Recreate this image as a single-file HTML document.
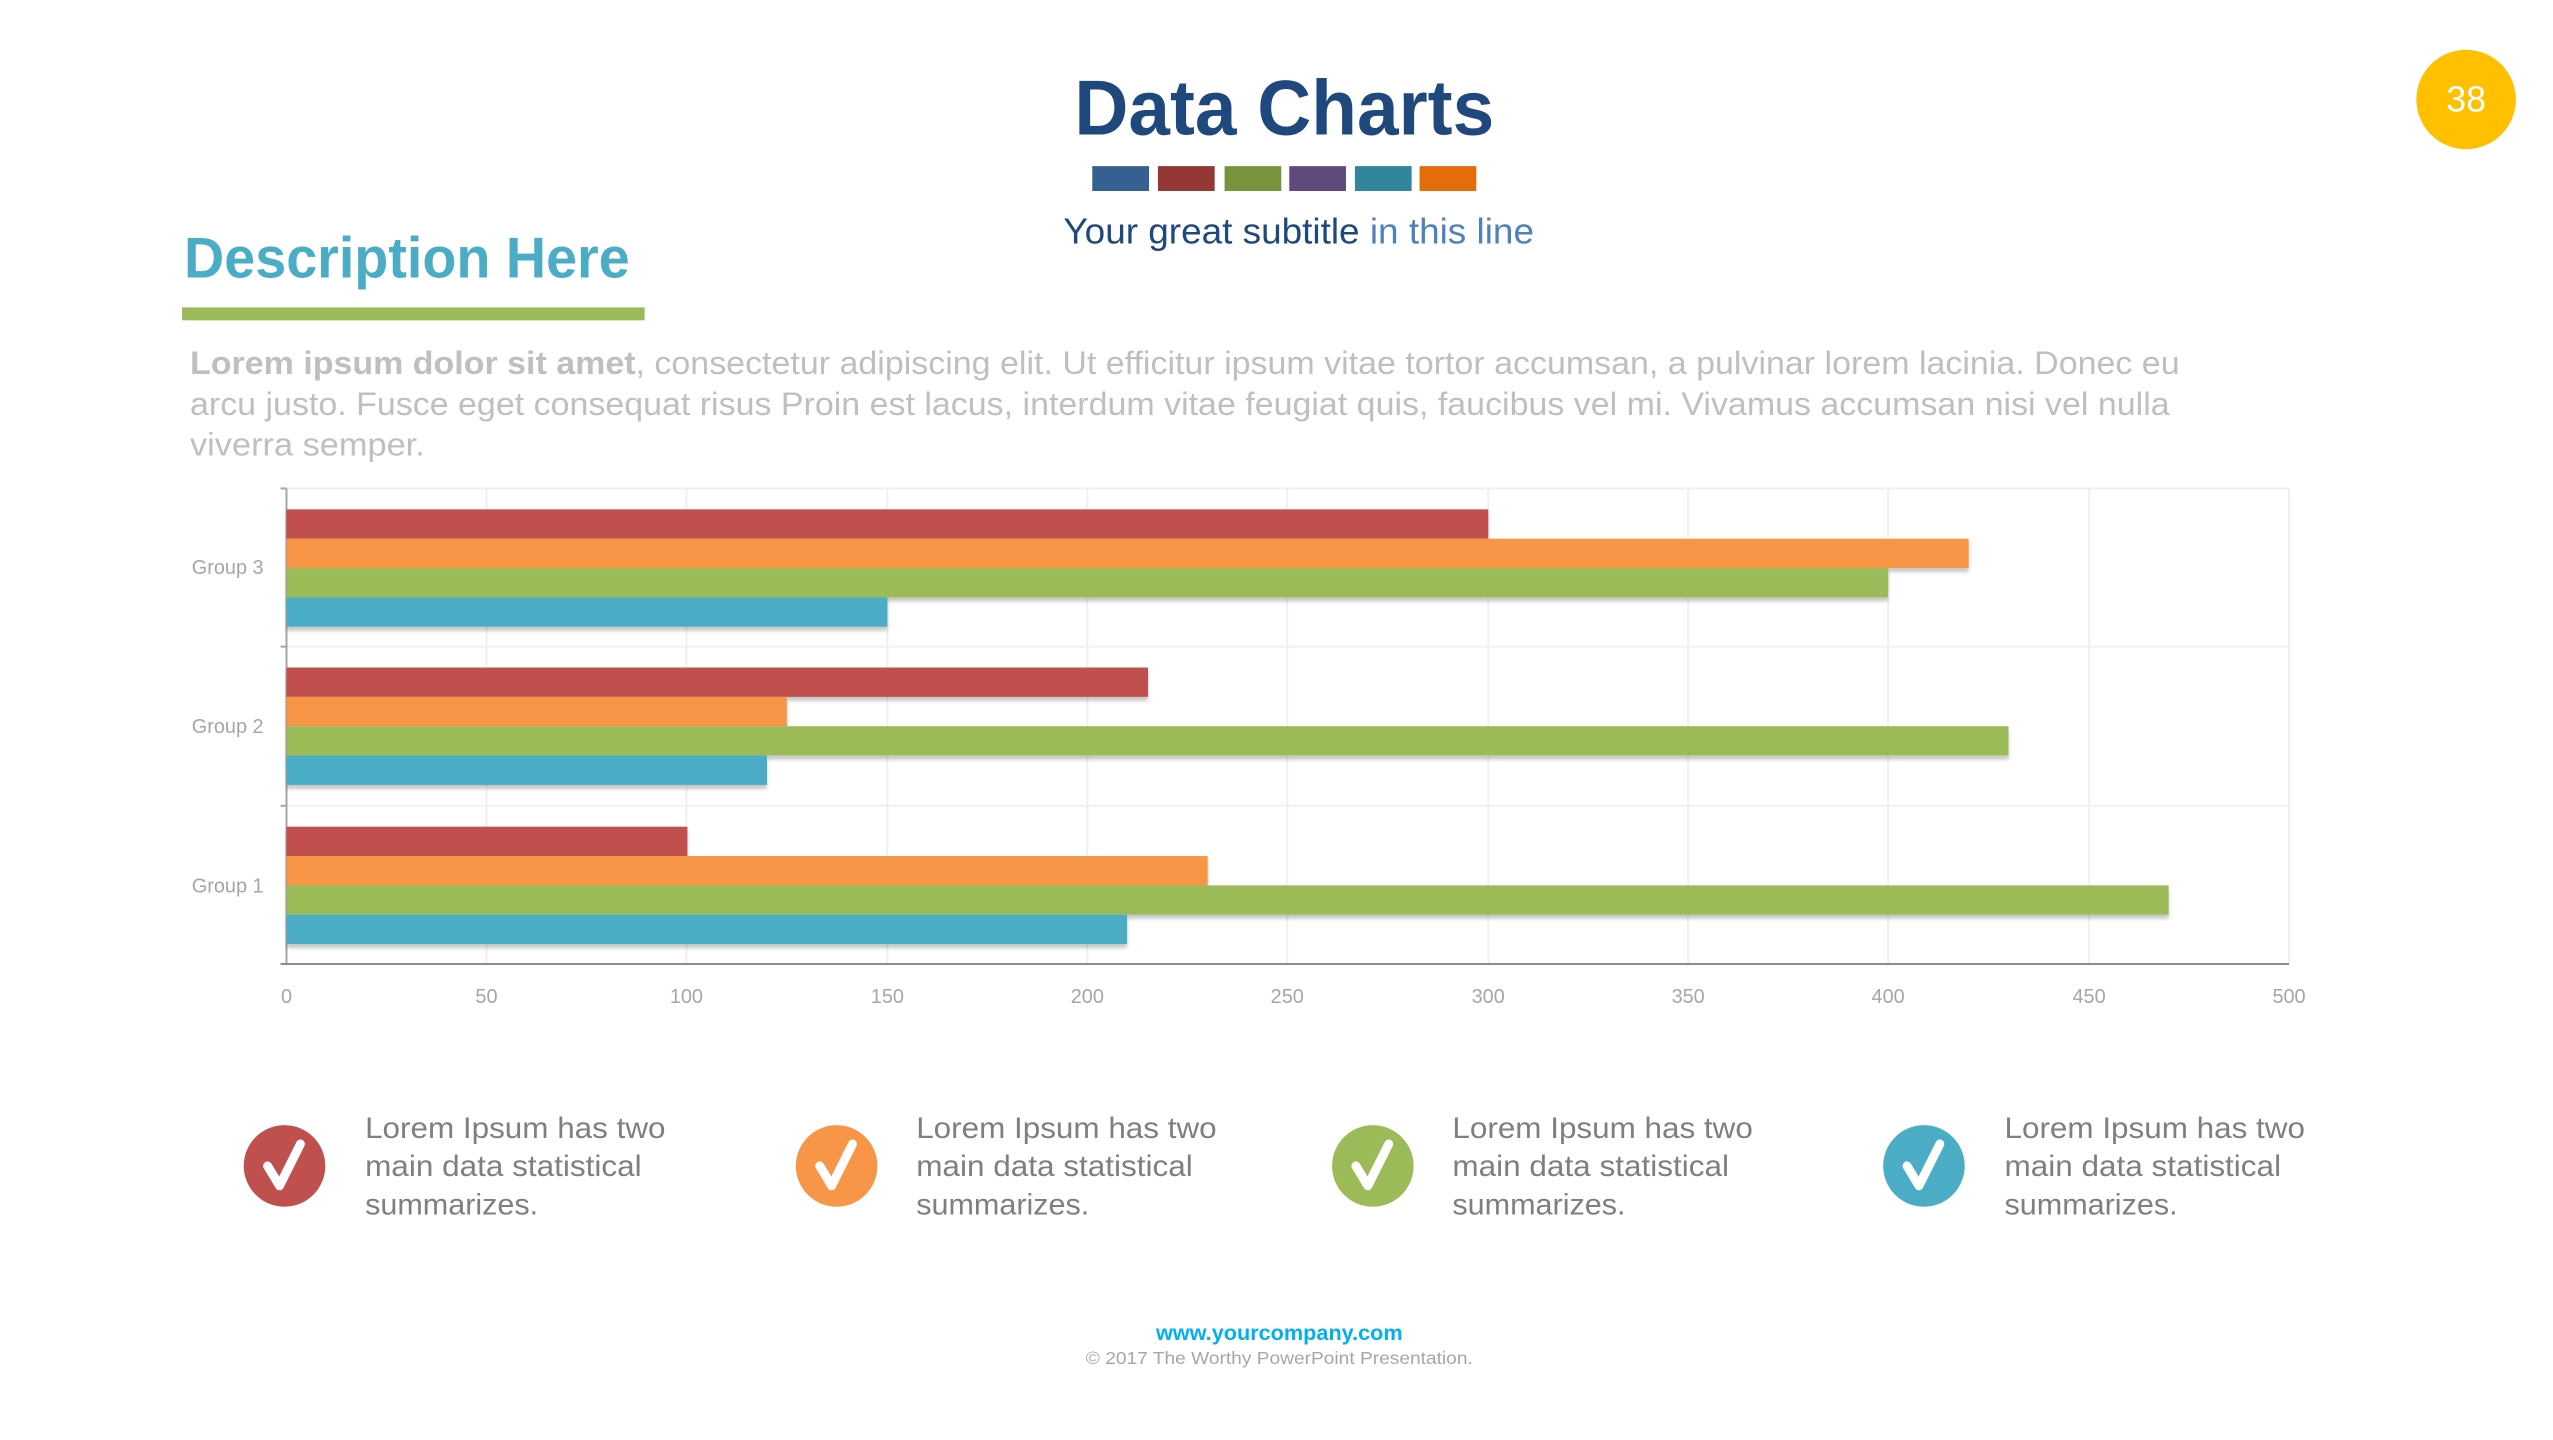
<!DOCTYPE html>
<html><head><meta charset="utf-8"><style>
html,body{margin:0;padding:0;background:#fff;}
svg{display:block;}
text{font-family:"Liberation Sans",sans-serif;}
</style></head><body>
<svg width="2553" height="1440" viewBox="0 0 2553 1440" xmlns="http://www.w3.org/2000/svg">
<defs>
<filter id="sh" x="-5%" y="-20%" width="110%" height="160%">
<feDropShadow dx="0" dy="4" stdDeviation="2" flood-color="#000" flood-opacity="0.22"/>
</filter>
</defs>
<g transform="scale(0.9948)">
<text x="1080" y="135" font-size="78" font-weight="bold" fill="#1F497D" textLength="422" lengthAdjust="spacingAndGlyphs">Data Charts</text>
<rect x="1098" y="167" width="57" height="25" fill="#376092"/>
<rect x="1164" y="167" width="57" height="25" fill="#953735"/>
<rect x="1231" y="167" width="57" height="25" fill="#77933C"/>
<rect x="1296" y="167" width="57" height="25" fill="#604A7B"/>
<rect x="1362" y="167" width="57" height="25" fill="#31859C"/>
<rect x="1427" y="167" width="57" height="25" fill="#E46C0A"/>
<text x="1069" y="245" font-size="36" fill="#1F497D" textLength="473" lengthAdjust="spacingAndGlyphs">Your great subtitle <tspan fill="#4F81BD">in this line</tspan></text>
<circle cx="2479" cy="100" r="50" fill="#FFC000"/>
<text x="2479" y="112" font-size="36" fill="#fff" text-anchor="middle">38</text>
<text x="185" y="279" font-size="58" font-weight="bold" fill="#4BACC6" textLength="448" lengthAdjust="spacingAndGlyphs">Description Here</text>
<rect x="183" y="309" width="465" height="13" fill="#9BBB59"/>
<g font-size="33" fill="#BFBFBF">
<text x="191" y="376" textLength="2000" lengthAdjust="spacingAndGlyphs"><tspan font-weight="bold">Lorem ipsum dolor sit amet</tspan>, consectetur adipiscing elit. Ut efficitur ipsum vitae tortor accumsan, a pulvinar lorem lacinia. Donec eu</text>
<text x="191" y="417" textLength="1990" lengthAdjust="spacingAndGlyphs">arcu justo. Fusce eget consequat risus Proin est lacus, interdum vitae feugiat quis, faucibus vel mi.  Vivamus accumsan nisi vel nulla</text>
<text x="191" y="458" textLength="236" lengthAdjust="spacingAndGlyphs">viverra semper.</text>
</g>
<g stroke="#F0F0F0" stroke-width="2">
<line x1="489" y1="491" x2="489" y2="969"/>
<line x1="690" y1="491" x2="690" y2="969"/>
<line x1="892" y1="491" x2="892" y2="969"/>
<line x1="1093" y1="491" x2="1093" y2="969"/>
<line x1="1294" y1="491" x2="1294" y2="969"/>
<line x1="1496" y1="491" x2="1496" y2="969"/>
<line x1="1697" y1="491" x2="1697" y2="969"/>
<line x1="1898" y1="491" x2="1898" y2="969"/>
<line x1="2100" y1="491" x2="2100" y2="969"/>
<line x1="2301" y1="491" x2="2301" y2="969"/>
<line x1="288" y1="491" x2="2301" y2="491"/>
<line x1="288" y1="650" x2="2301" y2="650"/>
<line x1="288" y1="810" x2="2301" y2="810"/>
</g>
<g stroke="#A6A6A6" stroke-width="2">
<line x1="288" y1="491" x2="288" y2="969"/>
<line x1="282" y1="491" x2="288" y2="491"/>
<line x1="282" y1="650" x2="288" y2="650"/>
<line x1="282" y1="810" x2="288" y2="810"/>
</g>
<line x1="282" y1="969" x2="2301" y2="969" stroke="#8C8C8C" stroke-width="2"/>
<g filter="url(#sh)">
<rect x="288" y="512" width="1208" height="29.5" fill="#C0504D"/>
<rect x="288" y="541.5" width="1691" height="29.5" fill="#F79646"/>
<rect x="288" y="571" width="1610" height="29.5" fill="#9BBB59"/>
<rect x="288" y="600.5" width="604" height="29.5" fill="#4BACC6"/>
<rect x="288" y="671" width="866" height="29.5" fill="#C0504D"/>
<rect x="288" y="700.5" width="503" height="29.5" fill="#F79646"/>
<rect x="288" y="730" width="1731" height="29.5" fill="#9BBB59"/>
<rect x="288" y="759.5" width="483" height="29.5" fill="#4BACC6"/>
<rect x="288" y="831" width="403" height="29.5" fill="#C0504D"/>
<rect x="288" y="860.5" width="926" height="29.5" fill="#F79646"/>
<rect x="288" y="890" width="1892" height="29.5" fill="#9BBB59"/>
<rect x="288" y="919.5" width="845" height="29.5" fill="#4BACC6"/>
</g>
<g font-size="20" fill="#A6A6A6" text-anchor="middle">
<text x="288" y="1008">0</text><text x="489" y="1008">50</text><text x="690" y="1008">100</text>
<text x="892" y="1008">150</text><text x="1093" y="1008">200</text><text x="1294" y="1008">250</text>
<text x="1496" y="1008">300</text><text x="1697" y="1008">350</text><text x="1898" y="1008">400</text>
<text x="2100" y="1008">450</text><text x="2301" y="1008">500</text>
</g>
<g font-size="20" fill="#A6A6A6" text-anchor="end">
<text x="265" y="577">Group 3</text>
<text x="265" y="737">Group 2</text>
<text x="265" y="897">Group 1</text>
</g>
<circle cx="286" cy="1172" r="41" fill="#C0504D"/>
<circle cx="841" cy="1172" r="41" fill="#F79646"/>
<circle cx="1380" cy="1172" r="41" fill="#9BBB59"/>
<circle cx="1934" cy="1172" r="41" fill="#4BACC6"/>
<g fill="none" stroke="#fff" stroke-width="9" stroke-linecap="round" stroke-linejoin="round">
<path d="M269 1172 L281 1192 L302 1150"/>
<path d="M824 1172 L836 1192 L857 1150"/>
<path d="M1363 1172 L1375 1192 L1396 1150"/>
<path d="M1917 1172 L1929 1192 L1950 1150"/>
</g>
<g font-size="30" fill="#7F7F7F">
<text x="367" y="1144" textLength="302" lengthAdjust="spacingAndGlyphs">Lorem Ipsum has two</text>
<text x="367" y="1182" textLength="278" lengthAdjust="spacingAndGlyphs">main data statistical</text>
<text x="367" y="1221" textLength="174" lengthAdjust="spacingAndGlyphs">summarizes.</text>
<text x="921" y="1144" textLength="302" lengthAdjust="spacingAndGlyphs">Lorem Ipsum has two</text>
<text x="921" y="1182" textLength="278" lengthAdjust="spacingAndGlyphs">main data statistical</text>
<text x="921" y="1221" textLength="174" lengthAdjust="spacingAndGlyphs">summarizes.</text>
<text x="1460" y="1144" textLength="302" lengthAdjust="spacingAndGlyphs">Lorem Ipsum has two</text>
<text x="1460" y="1182" textLength="278" lengthAdjust="spacingAndGlyphs">main data statistical</text>
<text x="1460" y="1221" textLength="174" lengthAdjust="spacingAndGlyphs">summarizes.</text>
<text x="2015" y="1144" textLength="302" lengthAdjust="spacingAndGlyphs">Lorem Ipsum has two</text>
<text x="2015" y="1182" textLength="278" lengthAdjust="spacingAndGlyphs">main data statistical</text>
<text x="2015" y="1221" textLength="174" lengthAdjust="spacingAndGlyphs">summarizes.</text>
</g>
<text x="1286" y="1347" font-size="21" font-weight="bold" fill="#00B0F0" text-anchor="middle" textLength="248" lengthAdjust="spacingAndGlyphs">www.yourcompany.com</text>
<text x="1286" y="1371" font-size="18" fill="#A6A6A6" text-anchor="middle" textLength="389" lengthAdjust="spacingAndGlyphs">© 2017 The Worthy PowerPoint Presentation.</text>
</g>
</svg>
</body></html>
